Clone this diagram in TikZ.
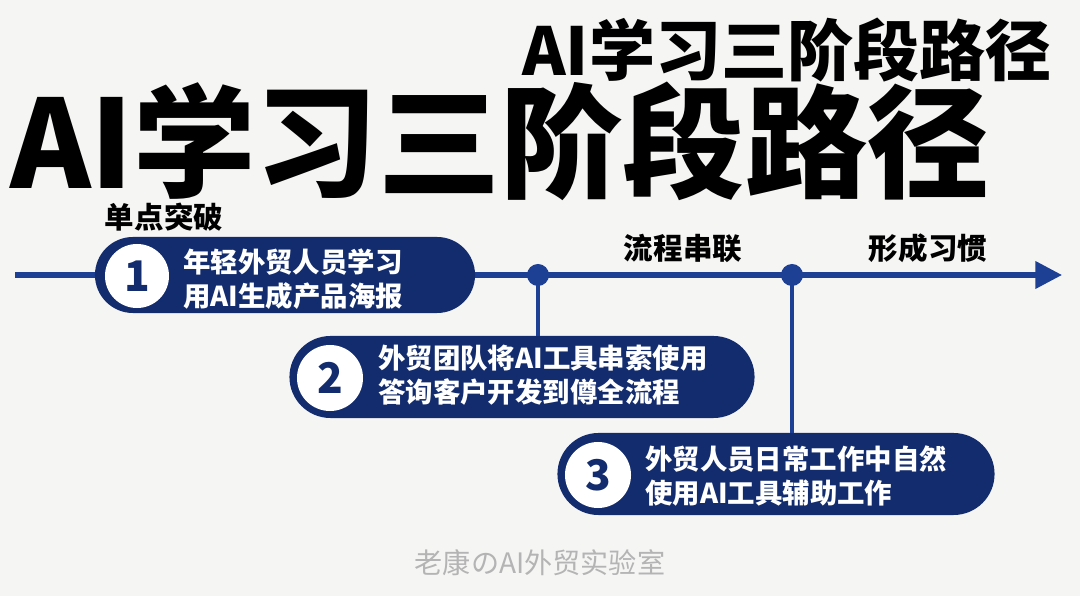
\documentclass[tikz,border=0pt]{standalone}
\usepackage{fontspec}
\usepackage{xcolor}
\usetikzlibrary{arrows.meta,shapes.misc}
\setmainfont{Noto Sans CJK SC}
\newfontfamily\heavyfont{Noto Sans CJK SC Black}
\definecolor{navy}{HTML}{132C6E}
\definecolor{lineblue}{HTML}{1D3F94}
\definecolor{bggray}{HTML}{F5F5F4}
\definecolor{markgray}{HTML}{B4B4B4}

\begin{document}
\begin{tikzpicture}[
  x=0.025cm, y=-0.025cm,
  pill/.style={rounded rectangle, fill=navy, inner sep=0pt},
  numc/.style={circle, fill=white, minimum size=1.65cm, inner sep=0pt, text=navy, font=\bfseries\fontsize{30}{30}\selectfont},
  ptext/.style={anchor=west, align=left, text=white, inner sep=0pt, font=\bfseries\fontsize{19.5}{24.5}\selectfont},
  stage/.style={inner sep=0pt, font=\bfseries\fontsize{21}{21}\selectfont},
  dot/.style={circle, fill=lineblue, minimum size=0.55cm, inner sep=0pt},
  tline/.style={lineblue, line width=3.6pt, -{Triangle[length=19pt, width=19pt]}},
  vline/.style={lineblue, line width=2.6pt}
]
\useasboundingbox (0,0) rectangle (1080,596);
\fill[bggray] (0,0) rectangle (1080,596);

% Titles
\node[inner sep=0pt, font=\heavyfont\fontsize{47}{47}\selectfont] (subtitle) at (787,50) {AI学习三阶段路径};
\node[inner sep=0pt, font=\heavyfont\fontsize{87}{87}\selectfont] (title) at (500,141) {AI学习三阶段路径};

% Timeline
\coordinate (tstart) at (15,275);
\coordinate (tend) at (1062,275);
\draw[tline] (tstart) -- (tend);

% Stage labels
\node[stage] (lab1) at (164,217) {单点突破};
\node[stage] (lab2) at (683,248) {流程串联};
\node[stage] (lab3) at (928,248) {形成习惯};

% Junctions
\node[dot] (d1) at (538,275) {};
\node[dot] (d2) at (792,275) {};

% Stage 1
\node[pill, minimum width=9.5cm, minimum height=1.9cm] (p1) at (285,275) {};
\node[numc, minimum size=1.6cm] (c1) at (137,276) {1};
\node[ptext] (t1) at (183,279) {年轻外贸人员学习\\用AI生成产品海报};

% Stage 2
\node[pill, minimum width=11.625cm, minimum height=2.05cm] (p2) at (522,377) {};
\node[numc] (c2) at (330,378) {2};
\node[ptext] (t2) at (378,375) {外贸团队将AI工具串索使用\\答询客户开发到僔全流程};

% Stage 3
\node[pill, minimum width=10.925cm, minimum height=2.05cm] (p3) at (776,474) {};
\node[numc] (c3) at (598,475) {3};
\node[ptext] (t3) at (645,476) {外贸人员日常工作中自然\\使用AI工具辅助工作};

% Connectors
\draw[vline] (d1.center) -- (d1 |- p2.north);
\draw[vline] (d2.center) -- (d2 |- p3.north);

% Watermark
\node[inner sep=0pt, text=markgray, font=\fontsize{20}{20}\selectfont] (mark) at (540,563) {老康のAI外贸实验室};
\end{tikzpicture}
\end{document}
